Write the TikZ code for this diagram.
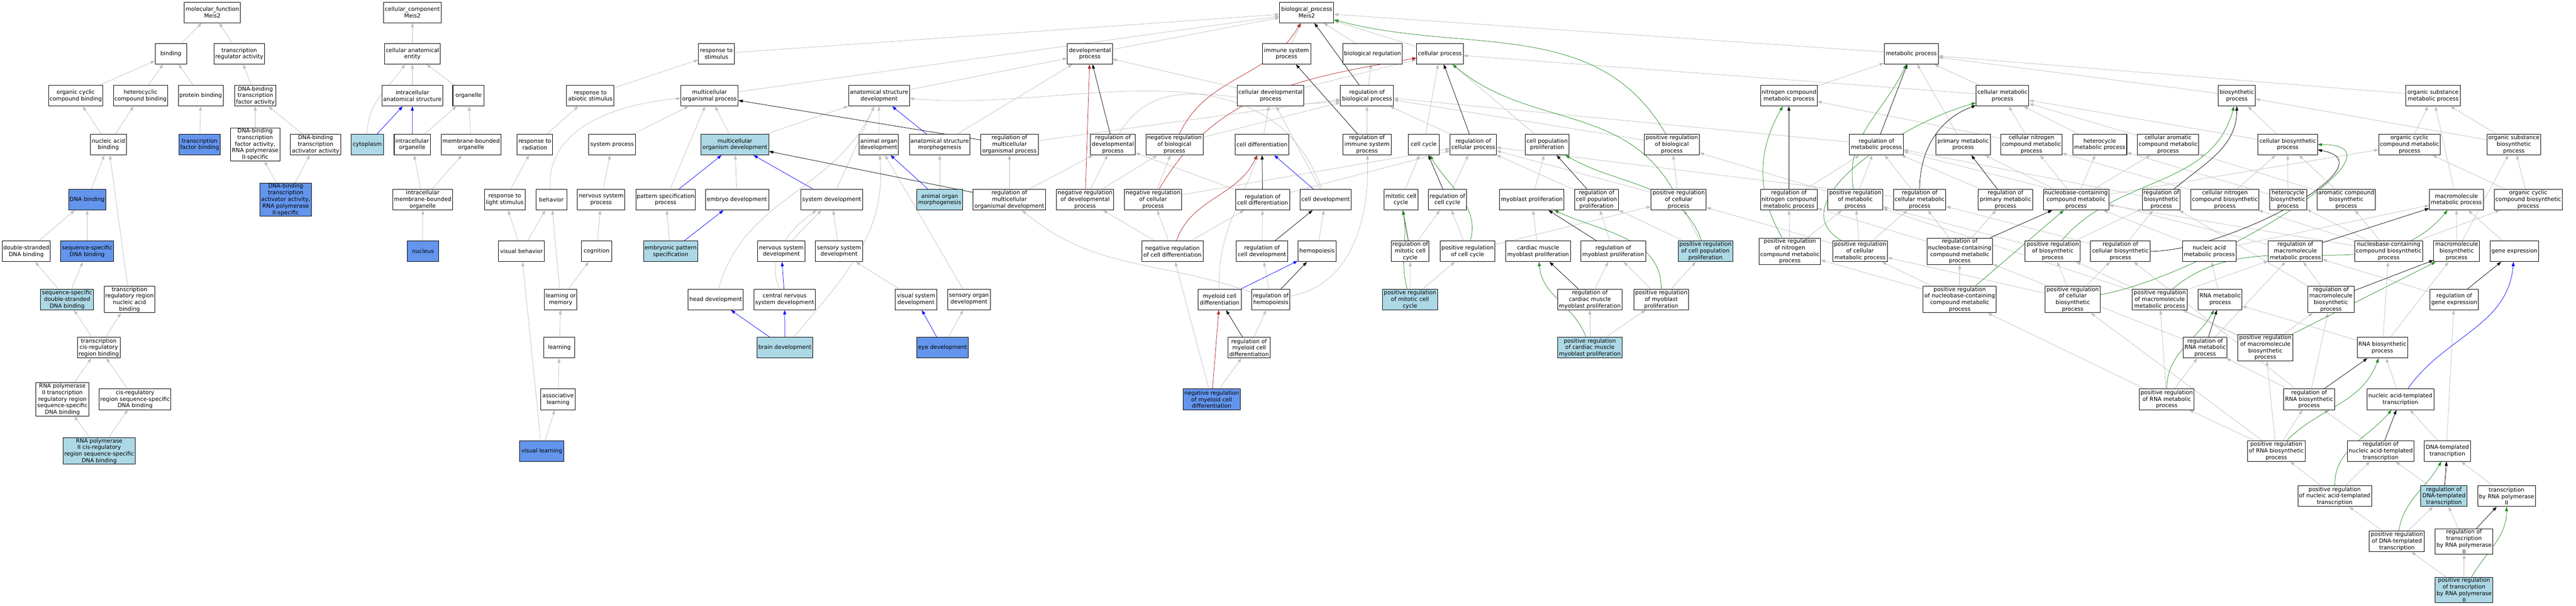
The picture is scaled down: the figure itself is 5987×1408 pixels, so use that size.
\documentclass[tikz,border=0pt]{standalone}
\usepackage{fontspec}
\setmainfont{DejaVu Sans}
\usetikzlibrary{arrows.meta}
\definecolor{isagrey}{HTML}{BEBEBE}
\definecolor{negred}{HTML}{B22222}
\definecolor{posgreen}{HTML}{228B22}
\definecolor{hitblue}{HTML}{6495ED}
\definecolor{annblue}{HTML}{ADD8E6}
\pgfdeclarelayer{edges}
\pgfsetlayers{edges,main}
\tikzset{
  term/.style={draw=black, fill=white, line width=1.2pt, minimum height=48pt,
    inner xsep=2pt, inner ysep=1.5pt, align=center,
    font=\fontsize{13}{15.3}\selectfont},
  hit/.style={term, fill=hitblue},
  ann/.style={term, fill=annblue},
  link/.style={line width=0.9pt, -{Triangle[length=10pt,width=7pt]}},
  isa/.style={link, color=isagrey},
  regl/.style={link, color=black},
  partof/.style={link, color=blue},
  negreg/.style={link, color=negred},
  posreg/.style={link, color=posgreen}
}
\begin{document}
\begin{tikzpicture}[x=1pt, y=-1pt]
  \useasboundingbox (0,0) rectangle (5987,1408);

  % molecular function and cellular component
  \foreach \n/\x/\y/\w/\k/\txt in {
    mf/493.5/29/131/term/{molecular\_function\\Meis2},
    binding/397/125/73/term/{binding},
    trreg/556/125/118/term/{transcription\\regulator activity},
    occb/176/222.5/126/term/{organic cyclic\\compound binding},
    hcb/326.5/222.5/126/term/{heterocyclic\\compound binding},
    protb/466.5/222.5/104/term/{protein binding},
    dbtf/593.5/222.5/96/term/{DNA-binding\\transcription\\factor activity},
    nab/252/336/83/term/{nucleic acid\\binding},
    tfb/464/336/96/hit/{transcription\\factor binding},
    dbtf2/593/335.5/115/term/{DNA-binding\\transcription\\factor activity,\\RNA polymerase\\II-specific},
    dbta/733.5/336/117/term/{DNA-binding\\transcription\\activator activity},
    cyto/853.5/336/75/ann/{cytoplasm},
    ico/958/336/84/term/{intracellular\\organelle},
    dnab/202.5/464/86/hit/{DNA binding},
    dbta2/664/464/120/hit/{DNA-binding\\transcription\\activator activity,\\RNA polymerase\\II-specific},
    imbo/982.5/464/139/term/{intracellular\\membrane-bounded\\organelle},
    dsdb/61/584/112/term/{double-stranded\\DNA binding},
    ssdb/202.5/584/123/hit/{sequence-specific\\DNA binding},
    nucleus/983/584/73/hit/{nucleus},
    ssds/156/696/123/ann/{sequence-specific\\double-stranded\\DNA binding},
    trrna/301/696/118/term/{transcription\\regulatory region\\nucleic acid\\binding},
    tcrb/229.5/808/99/term/{transcription\\cis-regulatory\\region binding},
    p2trr/145/928/123/term/{RNA polymerase\\II transcription\\regulatory region\\sequence-specific\\DNA binding},
    crss/314/928/166/term/{cis-regulatory\\region sequence-specific\\DNA binding},
    p2crs/230.5/1048/166.5/ann/{RNA polymerase\\II cis-regulatory\\region sequence-specific\\DNA binding},
    cc/958.5/29/134/term/{cellular\_component\\Meis2},
    cae/958.5/125/130/term/{cellular anatomical\\entity},
    ias/958.5/222.5/141/term/{intracellular\\anatomical structure},
    organelle/1089/222.5/73/term/{organelle},
    mbo/1095/336/140/term/{membrane-bounded\\organelle}}
    \node[\k, minimum width=\w pt] (\n) at (\x,\y) {\txt};

  % biological process, left half
  \foreach \n/\x/\y/\w/\k/\txt in {
    rstim/1665/125/83/term/{response to\\stimulus},
    rabio/1372/222.5/110/term/{response to\\abiotic stimulus},
    mop/1649/222.5/133/term/{multicellular\\organismal process},
    asd/2043/222.5/141.5/term/{anatomical structure\\development},
    rrad/1243/336/83.5/term/{response to\\radiation},
    sysp/1422.5/336/108/term/{system process},
    mod/1708/336/157.5/ann/{multicellular\\organism development},
    aod/2042.5/336/91/term/{animal organ\\development},
    rlight/1173/464/94.5/term/{response to\\light stimulus},
    behav/1281.5/464/72/term/{behavior},
    nsp/1397/464/110/term/{nervous system\\process},
    psp/1547/464/138.5/term/{pattern specification\\process},
    embd/1713/464/147/term/{embryo development},
    sysd/1933/464/143/term/{system development},
    visb/1212/584/106.5/term/{visual behavior},
    cogn/1386.5/584/71.5/term/{cognition},
    embps/1558.7/584/126/ann/{embryonic pattern\\specification},
    nsd/1816/584/110/term/{nervous system\\development},
    ssd/1950/584/110/term/{sensory system\\development},
    lom/1303/696/75/term/{learning or\\memory},
    headd/1663.6/696/128/term/{head development},
    cnsd/1823.6/696/143.5/term/{central nervous\\system development},
    learn/1300/808/72/term/{learning},
    braind/1824/808/129/ann/{brain development},
    assl/1297/928/80/term/{associative\\learning},
    visl/1259/1048/102/hit/{visual learning},
    devp/2533/125/104.5/term/{developmental\\process},
    bp/3037/29/126/term/{biological\_process\\Meis2},
    isp/2990/125/112.6/term/{immune system\\process},
    cdp/2953/222.5/155/term/{cellular developmental\\process},
    asm/2184/336/141/term/{anatomical structure\\morphogenesis},
    rmop/2346/336/134/term/{regulation of\\multicellular\\organismal process},
    rdp/2586.5/336/104/term/{regulation of\\developmental\\process},
    nrbp/2729.5/336/133/term/{negative regulation\\of biological\\process},
    celldiff/2933/336/125/term/{cell differentiation},
    aom/2184/464/106.5/ann/{animal organ\\morphogenesis},
    rmod/2346/464/168.5/term/{regulation of\\multicellular\\organismal development},
    nrdp/2522/464/132.6/term/{negative regulation\\of developmental\\process},
    nrcp/2680/464/132.7/term/{negative regulation\\of cellular\\process},
    rcd/2934.5/464/125.6/term/{regulation of\\cell differentiation},
    nrcd/2725/584/143/term/{negative regulation\\of cell differentiation},
    rcdev/2933/584/118.6/term/{regulation of\\cell development},
    vsd/2129/696/97.6/term/{visual system\\development},
    sod/2252/696/99.5/term/{sensory organ\\development},
    mcd/2834.5/696/100/term/{myeloid cell\\differentiation},
    rhemo/2953.6/696/89/term/{regulation of\\hemopoiesis},
    eyed/2190.6/808/120/hit/{eye development},
    rmcd/2903/808/99/term/{regulation of\\myeloid cell\\differentiation},
    nrmcd/2816/928/133/hit/{negative regulation\\of myeloid cell\\differentiation}}
    \node[\k, minimum width=\w pt] (\n) at (\x,\y) {\txt};

  % biological process, cell cycle and proliferation
  \foreach \n/\x/\y/\w/\k/\txt in {
    breg/3190/125/138.5/term/{biological regulation},
    cp/3346.6/125/108/term/{cellular process},
    rbp/3177/222.5/123/term/{regulation of\\biological process},
    risp/3177/336/112/term/{regulation of\\immune system\\process},
    ccyc/3309/336/72.7/term/{cell cycle},
    rcp/3424/336/107/term/{regulation of\\cellular process},
    cpp/3595.7/336/102/term/{cell population\\proliferation},
    prbp/3885.6/336/128/term/{positive regulation\\of biological\\process},
    celldev/3081/464/118/term/{cell development},
    mcc/3256/464/78.5/term/{mitotic cell\\cycle},
    rcc/3364/464/88.6/term/{regulation of\\cell cycle},
    mybp/3560/464/150.5/term/{myoblast proliferation},
    rcpp/3710.5/464/102/term/{regulation of\\cell population\\proliferation},
    prcp/3901.5/464/128/term/{positive regulation\\of cellular\\process},
    hemo/3061/584/89/term/{hemopoiesis},
    rmcc/3277.5/584/88/term/{regulation of\\mitotic cell\\cycle},
    prcc/3410.8/584/127.5/term/{positive regulation\\of cell cycle},
    cmmp/3574.7/584/150.5/term/{cardiac muscle\\myoblast proliferation},
    rmybp/3749.4/584/150.6/term/{regulation of\\myoblast proliferation},
    prcpp/3963.7/584/127.4/ann/{positive regulation\\of cell population\\proliferation},
    prmcc/3277/696/128/ann/{positive regulation\\of mitotic cell\\cycle},
    rcmmp/3695/696/150/term/{regulation of\\cardiac muscle\\myoblast proliferation},
    prmybp/3861/696/128/term/{positive regulation\\of myoblast\\proliferation},
    prcmmp/3695/808/150/ann/{positive regulation\\of cardiac muscle\\myoblast proliferation}}
    \node[\k, minimum width=\w pt] (\n) at (\x,\y) {\txt};

  % biological process, metabolism
  \foreach \n/\x/\y/\w/\k/\txt in {
    metp/4442/125/125.6/term/{metabolic process},
    ncmp/4157.6/222.5/131.4/term/{nitrogen compound\\metabolic process},
    cmp/4654/222.5/122.5/term/{cellular metabolic\\process},
    rmp/4361/336/125/term/{regulation of\\metabolic process},
    pmp/4562.6/336/126.3/term/{primary metabolic\\process},
    cncmp/4721.4/336/141.6/term/{cellular nitrogen\\compound metabolic\\process},
    hcmp/4880/336/125.6/term/{heterocycle\\metabolic process},
    cacmp/5039/336/142.6/term/{cellular aromatic\\compound metabolic\\process},
    rncmp/4157.6/464/131.4/term/{regulation of\\nitrogen compound\\metabolic process},
    prmp/4312/464/127.6/term/{positive regulation\\of metabolic\\process},
    rcmp/4461.5/464/122/term/{regulation of\\cellular metabolic\\process},
    rpmp/4661/464/126.3/term/{regulation of\\primary metabolic\\process},
    nbmp/4825/464/151.8/term/{nucleobase-containing\\compound metabolic\\process},
    rbsp/5023/464/88.4/term/{regulation of\\biosynthetic\\process},
    prncmp/4160/584/142.2/term/{positive regulation\\of nitrogen\\compound metabolic\\process},
    prcmp/4323/584/127.6/term/{positive regulation\\of cellular\\metabolic process},
    rnbmp/4554.6/584/152.4/term/{regulation of\\nucleobase-containing\\compound metabolic\\process},
    prbsp/4770.8/584/128/term/{positive regulation\\of biosynthetic\\process},
    rcbsp/4928/584/139/term/{regulation of\\cellular biosynthetic\\process},
    prnbmp/4554.6/696/170.3/term/{positive regulation\\of nucleobase-containing\\compound metabolic\\process},
    prcbsp/4817.3/696/128/term/{positive regulation\\of cellular\\biosynthetic\\process},
    prmmp/5019.5/696/128/term/{positive regulation\\of macromolecule\\metabolic process},
    prrmp/5035.8/928/127.5/term/{positive regulation\\of RNA metabolic\\process},
    bsp/5198.6/222.5/86.2/term/{biosynthetic\\process},
    osmp/5654.6/222.5/126/term/{organic substance\\metabolic process},
    cbsp/5317/336/138/term/{cellular biosynthetic\\process},
    occmp/5600/336/143/term/{organic cyclic\\compound metabolic\\process},
    osbsp/5842.6/336/124/term/{organic substance\\biosynthetic\\process},
    cncbsp/5171/464/158/term/{cellular nitrogen\\compound biosynthetic\\process},
    hcbsp/5317.6/464/86.2/term/{heterocycle\\biosynthetic\\process},
    acbsp/5453/464/136/term/{aromatic compound\\biosynthetic\\process},
    mmp/5709/464/125.3/term/{macromolecule\\metabolic process},
    occbsp/5876/464/158/term/{organic cyclic\\compound biosynthetic\\process},
    namp/5134.7/584/124.6/term/{nucleic acid\\metabolic process},
    rmmp/5334.6/584/125.3/term/{regulation of\\macromolecule\\metabolic process},
    nbbsp/5551.8/584/158/term/{nucleobase-containing\\compound biosynthetic\\process},
    mbsp/5709.5/584/107/term/{macromolecule\\biosynthetic\\process},
    gexp/5843.8/584/112.7/term/{gene expression},
    rnamp/5160/696/102/term/{RNA metabolic\\process},
    rmbsp/5417.4/696/107/term/{regulation of\\macromolecule\\biosynthetic\\process},
    rgexp/5704/696/112.7/term/{regulation of\\gene expression},
    rrnamp/5125/808/101.3/term/{regulation of\\RNA metabolic\\process},
    prmbsp/5265/808/128.4/term/{positive regulation\\of macromolecule\\biosynthetic\\process},
    rnabsp/5537/808/117.7/term/{RNA biosynthetic\\process},
    rrnabsp/5366.6/928/117.7/term/{regulation of\\RNA biosynthetic\\process},
    natt/5578.8/928/155.5/term/{nucleic acid-templated\\transcription},
    prrnabsp/5290.5/1048/134/term/{positive regulation\\of RNA biosynthetic\\process},
    rnatt/5533/1048/155/term/{regulation of\\nucleic acid-templated\\transcription},
    dtt/5688/1048/107/term/{DNA-templated\\transcription},
    prnatt/5426/1153/171.3/term/{positive regulation\\of nucleic acid-templated\\transcription},
    rdtt/5680/1153/107/ann/{regulation of\\DNA-templated\\transcription},
    trp2/5825.6/1153/134/term/{transcription\\by RNA polymerase\\II},
    prdtt/5570.6/1258/128/term/{positive regulation\\of DNA-templated\\transcription},
    rtrp2/5726.8/1258.5/134/term/{regulation of\\transcription\\by RNA polymerase\\II},
    prtrp2/5726.8/1371/134/ann/{positive regulation\\of transcription\\by RNA polymerase\\II}}
    \node[\k, minimum width=\w pt] (\n) at (\x,\y) {\txt};

  \begin{pgfonlayer}{edges}
    % is_a
    \foreach \a/\b in {binding/mf, trreg/mf, occb/binding, hcb/binding, protb/binding,
      dbtf/trreg, nab/occb, nab/hcb, tfb/protb, dbtf2/dbtf, dbta/dbtf, dnab/nab,
      dbta2/dbtf2, dbta2/dbta, dsdb/dnab, ssdb/dnab, ssds/dsdb, ssds/ssdb, trrna/nab,
      tcrb/ssds, tcrb/trrna, p2trr/tcrb, crss/tcrb, p2crs/p2trr, p2crs/crss,
      cae/cc, ias/cae, organelle/cae, ico/organelle, imbo/ico, imbo/mbo, mbo/organelle,
      nucleus/imbo, rstim/bp, rabio/rstim, rrad/rabio, rlight/rrad, visb/rlight,
      visb/behav, lom/behav, lom/cogn, cogn/nsp, nsp/sysp, sysp/mop, learn/lom,
      assl/learn, visl/assl, visl/visb, mop/bp, mod/mop, mod/asd, psp/mop, embd/mod,
      sysd/asd, embps/psp, nsd/sysd, ssd/sysd, vsd/ssd, sod/aod, eyed/sod, aod/asd,
      asd/devp, asm/devp, aom/asm, devp/bp, rmop/rbp, nrbp/rbp, cdp/devp, cdp/cp,
      celldiff/cdp, rmod/rmop, rmod/rdp, nrdp/rdp, nrdp/nrbp, nrcp/nrbp, nrcp/rcp,
      rcd/rdp, rcd/rcp, nrcd/nrdp, nrcd/nrcp, nrcd/rcd, rcdev/rcd, rhemo/rcdev,
      rmcd/rhemo, nrmcd/rmcd, nrmcd/nrcd, celldev/cdp, hemo/celldev,
      isp/bp, breg/bp, cp/bp, rbp/breg, risp/rbp, ccyc/cp, rcp/rbp, cpp/cp, prbp/rbp,
      prcp/rcp, prcp/prbp, mcc/ccyc, rcc/rcp, prcc/rcc, prcc/prcp, mybp/cpp, rcpp/rcp,
      prcpp/prcp, prcpp/rcpp, rmcc/rcc, prmcc/rmcc, prmcc/prcc, cmmp/mybp,
      rmybp/rcpp, rcmmp/rmybp, prmybp/rmybp, prmybp/prcpp, prcmmp/rcmmp,
      prcmmp/prmybp, metp/bp, ncmp/metp, cmp/metp, cmp/cp, pmp/metp, rmp/rbp,
      rncmp/rmp, prmp/rmp, prmp/prbp, rcmp/rmp, rcmp/rcp, cncmp/cmp, cncmp/ncmp,
      hcmp/cmp, cacmp/cmp, rpmp/rmp, nbmp/pmp, nbmp/cncmp, nbmp/hcmp, nbmp/cacmp,
      nbmp/occmp, rbsp/rmp, prncmp/rncmp, prncmp/prmp, prcmp/rcmp, prcmp/prmp,
      prcmp/prcp, rnbmp/rcmp, rnbmp/rpmp, rnbmp/rncmp, prbsp/rbsp, prbsp/prmp,
      rcbsp/rbsp, rcbsp/rcmp, prnbmp/rnbmp, prnbmp/prcmp, prnbmp/prncmp,
      prcbsp/prbsp, prcbsp/rcbsp, prcbsp/prcmp, prmmp/rmmp, prmmp/prmp,
      prrmp/prnbmp, prrmp/rrnamp, prrmp/prmmp, bsp/metp, osmp/metp, cbsp/bsp,
      cbsp/cmp, occmp/osmp, osbsp/osmp, osbsp/bsp, cncbsp/cbsp, cncbsp/cncmp,
      hcbsp/cbsp, hcbsp/hcmp, acbsp/cbsp, acbsp/cacmp, mmp/osmp, occbsp/occmp,
      occbsp/osbsp, namp/nbmp, namp/mmp, rmmp/rmp, nbbsp/nbmp, nbbsp/hcbsp,
      nbbsp/acbsp, nbbsp/occbsp, nbbsp/cncbsp, mbsp/mmp, mbsp/osbsp, gexp/mmp,
      rnamp/namp, rmbsp/rmmp, rmbsp/rbsp, rgexp/rmmp, rrnamp/rnbmp, rrnamp/rmmp,
      prmbsp/rmbsp, prmbsp/prmmp, prmbsp/prbsp, rnabsp/rnamp, rnabsp/nbbsp,
      rnabsp/mbsp, rrnabsp/rrnamp, rrnabsp/rmbsp, rrnabsp/rcbsp, natt/rnabsp,
      prrnabsp/rrnabsp, prrnabsp/prrmp, prrnabsp/prmbsp, prrnabsp/prcbsp,
      rnatt/rrnabsp, dtt/natt, prnatt/rnatt, prnatt/prrnabsp, rdtt/rnatt,
      rdtt/rgexp, trp2/dtt, prdtt/rdtt, prdtt/prnatt, rtrp2/rdtt, prtrp2/prdtt,
      prtrp2/rtrp2}
      \draw[isa] (\a) -- (\b);
    \foreach \a/\b/\o/\i in {cyto/cae/90/235, behav/mop/95/185, headd/asd/75/245,
      cnsd/sysd/115/215, braind/aod/50/275, rhemo/rmod/160/-40, rhemo/risp/10/-88,
      mcd/celldiff/92/-110, celldev/asd/110/-5, rdp/rbp/60/190}
      \draw[isa] (\a) to[out=\o,in=\i] (\b);

    % regulates
    \foreach \a/\b in {rmop/mop, rmod/mod, rdp/devp, rcd/celldiff, rcdev/celldev,
      rhemo/hemo, rmcd/mcd, risp/isp, rbp/bp, rcp/cp, rcc/ccyc, rcpp/cpp, rmcc/mcc,
      rmybp/mybp, rcmmp/cmmp, rmp/metp, rncmp/ncmp, rpmp/pmp, rnbmp/nbmp,
      rmmp/mmp, rmbsp/mbsp, rgexp/gexp, rrnamp/rnamp, rrnabsp/rnabsp, rnatt/natt,
      rdtt/dtt, rtrp2/trp2}
      \draw[regl] (\a) -- (\b);
    \draw[regl] (rcmp) to[out=90,in=200] (cmp);
    \draw[regl] (rbsp) to[out=40,in=-90] (bsp);
    \draw[regl] (rcbsp) to[out=0,in=-10] (cbsp);

    % part_of
    \foreach \a/\b in {cyto/ias, ico/ias, psp/mod, embps/embd, sysd/mod, cnsd/nsd,
      braind/headd, braind/cnsd, eyed/vsd, asm/asd, aom/aod, celldev/celldiff,
      mcd/hemo}
      \draw[partof] (\a) -- (\b);
    \draw[partof] (natt) to[out=55,in=-95] (gexp);

    % negatively regulates
    \draw[negreg] (nrbp) to[out=65,in=240] (bp);
    \draw[negreg] (nrdp) -- (devp);
    \draw[negreg] (nrcp) to[out=60,in=190] (cp);
    \draw[negreg] (nrcd) to[out=70,in=-115] (celldiff);
    \draw[negreg] (nrmcd) -- (mcd);

    % positively regulates
    \foreach \a/\b/\o/\i in {prbp/bp/120/-15, prcp/cp/120/-40, prcc/ccyc/75/-60,
      prcpp/cpp/110/-30, prmcc/mcc/105/-80, prmybp/mybp/90/-25,
      prcmmp/cmmp/110/-85, prmp/metp/100/-115, prncmp/ncmp/120/-120,
      prcmp/cmp/150/195, prbsp/bsp/50/-105, prcbsp/cbsp/10/0, prmmp/mmp/40/-130,
      prrmp/rnamp/90/-120, prrnabsp/rnabsp/45/-110, prnatt/natt/90/-130,
      prdtt/dtt/80/-120, prtrp2/trp2/60/-90}
      \draw[posreg] (\a) to[out=\o,in=\i] (\b);
    \foreach \a/\b in {prnbmp/nbmp, prmbsp/mbsp}
      \draw[posreg] (\a) -- (\b);
  \end{pgfonlayer}
\end{tikzpicture}
\end{document}
